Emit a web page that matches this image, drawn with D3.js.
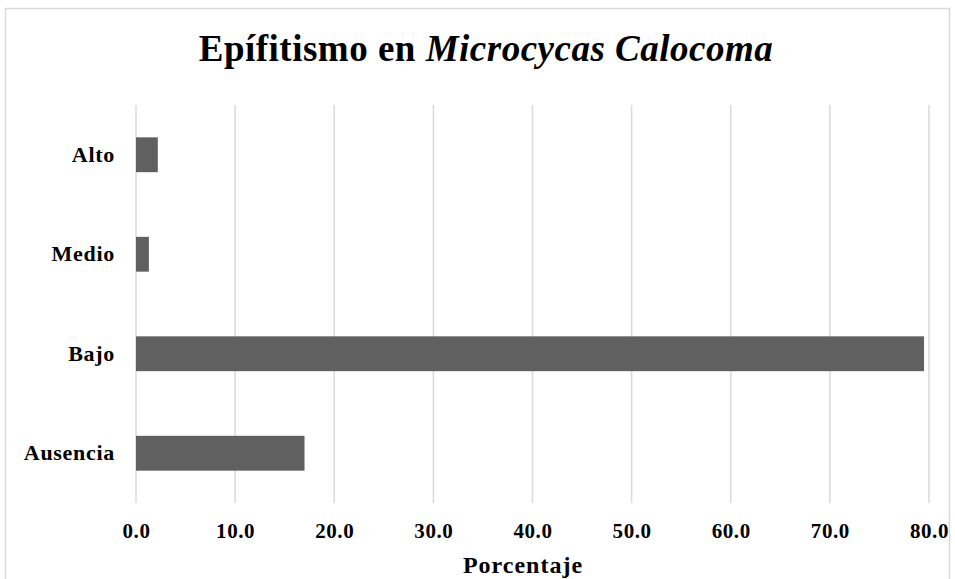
<!doctype html>
<html>
<head>
  <meta charset="utf-8">
  <title>Epífitismo en Microcycas Calocoma</title>
  <script src="https://d3js.org/d3.v7.min.js"></script>
  <style>
    body { margin: 0; background: #fff; }
    text { font-family: "Liberation Serif", "Times New Roman", serif; font-weight: bold; fill: #000; }
  </style>
</head>
<body>
<div id="chart"></div>
<script>
  // data
  var categories = ["Alto", "Medio", "Bajo", "Ausencia"];
  var values = [2.2, 1.3, 79.5, 17.0];
  var xTicks = [0, 10, 20, 30, 40, 50, 60, 70, 80];

  var W = 955, H = 579;
  var margin = {top: 105, right: 26, bottom: 76, left: 136},
      width = W - margin.left - margin.right,
      height = H - margin.top - margin.bottom;

  var root = d3.select("#chart")
    .append("svg")
      .attr("width", W)
      .attr("height", H);

  // chart frame
  root.append("rect")
    .attr("x", 5.5).attr("y", 8.5)
    .attr("width", 944).attr("height", 590)
    .style("fill", "none")
    .style("stroke", "#d9d9d9")
    .style("stroke-width", 1.5);

  // title
  var title = root.append("text")
    .attr("x", 486)
    .attr("y", 61)
    .style("text-anchor", "middle")
    .style("font-size", "37px")
    .style("letter-spacing", "0.5px");
  title.append("tspan").text("Epífitismo en ");
  title.append("tspan").style("font-style", "italic").text("Microcycas Calocoma");

  var svg = root.append("g")
    .attr("transform", "translate(" + margin.left + "," + margin.top + ")");

  var x = d3.scaleLinear()
    .domain([0, 80])
    .range([0, width]);

  var y = d3.scaleBand()
    .domain(categories)
    .range([0, height])
    .paddingInner(0.65)
    .paddingOuter(0.325);

  // gridlines
  svg.append("g")
    .selectAll("line")
    .data(xTicks)
    .enter()
    .append("line")
      .attr("x1", function(d){ return x(d); })
      .attr("x2", function(d){ return x(d); })
      .attr("y1", 0)
      .attr("y2", height)
      .style("stroke", "#d9d9d9")
      .style("stroke-width", 1.5);

  // bars
  svg.append("g")
    .selectAll("rect")
    .data(categories)
    .enter()
    .append("rect")
      .attr("x", x(0))
      .attr("y", function(d){ return y(d); })
      .attr("width", function(d, i){ return x(values[i]) - x(0); })
      .attr("height", y.bandwidth())
      .style("fill", "#606060");

  // x axis labels
  var xAxis = svg.append("g")
    .attr("transform", "translate(0," + height + ")")
    .call(d3.axisBottom(x).tickValues(xTicks).tickFormat(d3.format(".1f")).tickSize(0).tickPadding(20));
  xAxis.select(".domain").remove();
  xAxis.selectAll("text")
    .style("font-size", "21px")
    .style("letter-spacing", "0.6px")
    .style("font-family", null);

  // y axis labels
  var yAxis = svg.append("g")
    .call(d3.axisLeft(y).tickSize(0).tickPadding(21));
  yAxis.select(".domain").remove();
  yAxis.selectAll("text")
    .style("font-size", "22px")
    .style("letter-spacing", "0.7px")
    .style("font-family", null);

  // axis title
  root.append("text")
    .attr("x", 523)
    .attr("y", 573)
    .style("text-anchor", "middle")
    .style("font-size", "24px")
    .style("letter-spacing", "1px")
    .text("Porcentaje");
</script>
</body>
</html>
